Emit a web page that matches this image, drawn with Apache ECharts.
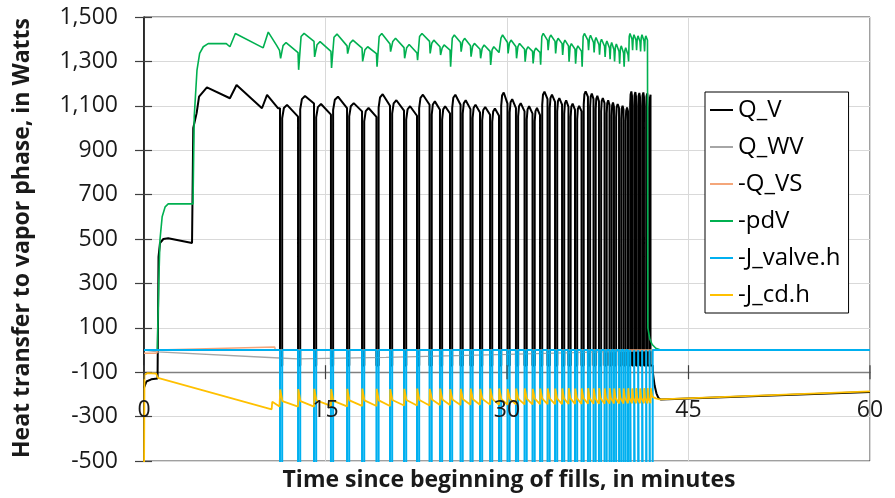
<!DOCTYPE html>
<html><head><meta charset="utf-8">
<script src="https://cdn.jsdelivr.net/npm/echarts@6/dist/echarts.min.js"></script>
<style>html,body{margin:0;padding:0;background:#fff}#c{width:895px;height:498px}</style>
</head><body><div id="c"></div>
<script>
// ---------------- data ----------------
const xTickLabels = [0, 15, 30, 45, 60];
const yTickLabels = [-500, -300, -100, 100, 300, 500, 700, 900, 1100, 1300, 1500];
const xAxisCrossAt = -100;
const seriesNames = ['Q_V', 'Q_WV', '-Q_VS', '-pdV', '-J_valve.h', '-J_cd.h'];

// start time (minutes) of every fill (valve opening)
const fillTimes = [11.24, 12.73, 14.05, 15.45, 16.78, 18.02, 19.21, 20.33, 21.49, 22.56,
  23.60, 24.46, 25.29, 26.16, 26.98, 27.77, 28.60, 29.34, 30.04, 30.74,
  31.45, 32.11, 32.73, 33.35, 33.97, 34.55, 35.08, 35.62, 36.16, 36.69,
  37.15, 37.60, 38.06, 38.47, 38.84, 39.26, 39.63, 40.00, 40.33, 40.66,
  40.99, 41.32, 41.61, 41.86];

// Q_V : before fills, per-fill peak and value just before next fill, after fills
const qvStart = [[0, -170], [0.2, -142], [0.6, -132], [1.12, -128], [1.2, 420], [1.32, 481], [1.6, 500],
  [2.0, 503], [3.97, 482], [4.07, 1000], [4.35, 1067], [4.55, 1141], [5.2, 1183], [7.1, 1134],
  [7.65, 1194], [9.75, 1089], [10.17, 1149], [11.07, 1089]];
const qvPeak = [1104, 1144, 1108, 1141, 1112, 1090, 1152, 1125, 1098, 1150,
  1120, 1098, 1150, 1125, 1105, 1095, 1088, 1160, 1130, 1112,
  1098, 1090, 1164, 1150, 1135, 1125, 1110, 1100, 1165, 1155,
  1145, 1135, 1125, 1115, 1108, 1100, 1092, 1165, 1162, 1158,
  1160, 1156, 1150];
const qvEnd = [1051, 1110, 1060, 1090, 1075, 1050, 1100, 1078, 1055, 1105,
  1082, 1065, 1105, 1085, 1070, 1060, 1055, 1110, 1090, 1075,
  1065, 1058, 1130, 1118, 1105, 1095, 1082, 1075, 1140, 1130,
  1120, 1112, 1104, 1096, 1090, 1082, 1075, 1145, 1142, 1140,
  1140, 1138, 1135];
const qvFillLow = -70;
const qvTail = [[42.05, -100], [42.2, -160], [42.35, -195], [42.5, -215], [42.7, -223], [60, -189]];

// Q_WV
const wvPoints = [[0, 0], [1.1, -8], [11.2, -36], [12.7, -40], [20, -33], [30, -20], [38, -8],
  [41.9, -3], [42.6, 0], [60, 0]];

// -Q_VS
const vsPoints = [[0, -15], [1.05, -15], [1.1, 0], [10.8, 14], [10.85, 0], [60, 0]];

// -pdV : before fills, per-fill dip / peak / value before next fill, after fills
const pdvStart = [[0, 0], [1.1, 0], [1.22, 300], [1.32, 496], [1.5, 600], [1.75, 645], [2.0, 658],
  [4.05, 658], [4.15, 1050], [4.38, 1261], [4.6, 1336], [4.9, 1366], [5.3, 1380], [6.8, 1380],
  [7.1, 1366], [7.55, 1426], [9.85, 1361], [10.27, 1432], [10.96, 1372], [11.2, 1350]];
const pdvDip = [1314, 1262, 1320, 1270, 1335, 1300, 1276, 1344, 1314, 1306,
  1336, 1329, 1276, 1344, 1321, 1314, 1284, 1336, 1336, 1314,
  1299, 1291, 1285, 1351, 1336, 1329, 1299, 1290, 1276, 1350,
  1340, 1330, 1320, 1310, 1300, 1290, 1276, 1300, 1350, 1350,
  1345, 1345];
const pdvPeak = [1385, 1426, 1389, 1423, 1396, 1366, 1426, 1404, 1376, 1426,
  1396, 1374, 1419, 1404, 1381, 1374, 1366, 1419, 1396, 1381,
  1366, 1360, 1426, 1419, 1404, 1396, 1380, 1370, 1426, 1418,
  1408, 1400, 1392, 1385, 1378, 1370, 1362, 1426, 1420, 1415,
  1420, 1415];
const pdvEnd = [1340, 1390, 1345, 1370, 1360, 1335, 1378, 1362, 1338, 1390,
  1366, 1351, 1385, 1370, 1355, 1345, 1340, 1385, 1366, 1355,
  1345, 1340, 1395, 1390, 1380, 1370, 1355, 1345, 1395, 1385,
  1375, 1368, 1360, 1352, 1345, 1338, 1330, 1400, 1395, 1390,
  1392, 1395];
const pdvTail = [[41.64, 100], [41.8, 50], [42.0, 25], [42.3, 8], [42.7, 0], [60, 0]];

// -J_valve.h : zero except during fills, where it drops far below the axis
const valveBase = 0;
const valveFillLow = -2000;

// -J_cd.h
const cdStart = [[0, -600], [0.04, -113], [0.3, -104], [1.0, -106], [1.15, -126], [10.55, -267],
  [10.6, -233], [11.2, -255]];
const cdHi = [-178, -176, -175, -176, -175, -174, -175, -176, -175, -174,
  -175, -174, -176, -175, -174, -175, -174, -173, -175, -174,
  -173, -175, -174, -173, -174, -173, -172, -174, -173, -172,
  -173, -172, -173, -172, -173, -172, -173, -172, -173, -172,
  -173, -172, -172, -172];
const cdLo = [-255, -255, -252, -254, -252, -252, -252, -250, -250, -250,
  -248, -248, -248, -247, -247, -246, -246, -246, -245, -245,
  -245, -244, -244, -244, -244, -243, -243, -243, -242, -242,
  -242, -242, -241, -241, -241, -241, -240, -240, -240, -240,
  -240, -240, -240];
const cdTail = [[42.0, -210], [42.3, -218], [42.6, -222], [60, -186]];

// ---------------- build polylines ----------------
const W = 0.18; // width of a fill spike (minutes)
function lastY(a) { return a[a.length - 1][1]; }

const qv = qvStart.map(p => p.slice());
for (let i = 0; i < qvPeak.length; i++) {
  const t = fillTimes[i], tn = fillTimes[i + 1], L = tn - t, pk = qvPeak[i];
  const rr = Math.min(0.4, 0.3 * L);
  qv.push([t, lastY(qv)], [t, qvFillLow], [t + W, qvFillLow], [t + W, pk - 60],
    [t + W + 0.35 * rr, pk - 14], [t + W + rr, pk], [tn, qvEnd[i]]);
}
{
  const t = fillTimes[qvPeak.length];
  qv.push([t, lastY(qv)], [t, qvFillLow], [t + W, qvFillLow]);
  qvTail.forEach(p => qv.push(p));
}

const pdv = pdvStart.map(p => p.slice());
for (let i = 0; i < pdvPeak.length; i++) {
  const t = fillTimes[i], tn = fillTimes[i + 1], L = tn - t, pk = pdvPeak[i];
  const rg = Math.min(0.45, 0.35 * L);
  pdv.push([t, lastY(pdv)], [t + 0.05, pdvDip[i]], [t + 0.05 + 0.45 * rg, pk - 14],
    [t + 0.05 + rg, pk], [tn, pdvEnd[i]]);
}
pdvTail.forEach(p => pdv.push(p));

const valve = [[0, valveBase]];
fillTimes.forEach(t => {
  valve.push([t, valveBase], [t, valveFillLow], [t + W, valveFillLow], [t + W, valveBase]);
});
valve.push([60, valveBase]);

const cd = cdStart.map(p => p.slice());
for (let i = 0; i < cdLo.length; i++) {
  const t = fillTimes[i], tn = fillTimes[i + 1], L = tn - t;
  cd.push([t, lastY(cd)], [t + 0.02, cdHi[i]], [t + Math.min(0.2, 0.3 * L), cdLo[i] + 25], [tn, cdLo[i]]);
}
{
  const i = cdLo.length, t = fillTimes[i];
  cd.push([t, lastY(cd)], [t + 0.02, cdHi[i]]);
  cdTail.forEach(p => cd.push(p));
}

const seriesData = [qv, wvPoints, vsPoints, pdv, valve, cd];
const colors = ['#000000', '#a6a6a6', '#f4a67a', '#00b050', '#00b0f0', '#ffc000'];
const widths = [2, 1.3, 1.5, 1.6, 2, 1.8];

// ---------------- chart ----------------
const FONT = 'Open Sans';
const xMin = xTickLabels[0], xMax = xTickLabels[xTickLabels.length - 1], xInt = xTickLabels[1] - xTickLabels[0];
const yMin = yTickLabels[0], yMax = yTickLabels[yTickLabels.length - 1], yInt = yTickLabels[1] - yTickLabels[0];

const chart = echarts.init(document.getElementById('c'), null, { renderer: 'canvas' });
const lineSeries = seriesNames.map((n, k) => ({
  name: n, type: 'line', xAxisIndex: 0, yAxisIndex: 0, data: seriesData[k],
  showSymbol: false, symbol: 'none', clip: true, silent: true,
  color: colors[k], lineStyle: { color: colors[k], width: widths[k] }
}));
// x-axis tick marks (crossing the axis line at -100) and their labels
const tickSeries = {
  type: 'custom', xAxisIndex: 0, yAxisIndex: 0, silent: true, z: 5,
  data: xTickLabels.map(v => [v, xAxisCrossAt]),
  renderItem: (params, api) => {
    const v = api.value(0);
    const p = api.coord([v, api.value(1)]);
    return { type: 'group', children: [
      { type: 'line', shape: { x1: p[0], y1: p[1] - 7, x2: p[0], y2: p[1] + 7 },
        style: { stroke: '#404040', lineWidth: 1.2 } },
      { type: 'text', x: p[0], y: p[1] + 38,
        style: { text: String(v), font: '23px "Open Sans"', fill: '#1a1a1a', align: 'center', verticalAlign: 'middle' } }
    ] };
  }
};

chart.setOption({
  animation: false,
  backgroundColor: '#ffffff',
  grid: { left: 144, right: 25, top: 17, bottom: 37, show: true, borderColor: '#404040', borderWidth: 1,
    containLabel: false, outerBoundsMode: 'none' },
  xAxis: [{
    type: 'value', min: xMin, max: xMax, interval: xInt, position: 'bottom',
    axisLine: { show: true, onZero: true, onZeroAxisIndex: 1, lineStyle: { color: '#808080', width: 1.3 } },
    axisTick: { show: false },
    axisLabel: { show: false },
    splitLine: { show: true, lineStyle: { color: '#d9d9d9', width: 1 } }
  }],
  yAxis: [
    {
      type: 'value', min: yMin, max: yMax, interval: yInt, position: 'left',
      axisLine: { show: true, onZero: false, lineStyle: { color: '#000', width: 1.5 } },
      axisTick: { show: true, inside: false, length: 9, lineStyle: { color: '#404040', width: 1.2 } },
      axisLabel: { show: true, margin: 26, fontFamily: FONT, fontSize: 23, color: '#1a1a1a',
        formatter: v => echarts.format.addCommas(v) },
      splitLine: { show: true, lineStyle: { color: '#d9d9d9', width: 1 } }
    },
    {
      type: 'value', min: yMin - xAxisCrossAt, max: yMax - xAxisCrossAt, interval: yInt, position: 'left',
      axisLine: { show: false, onZero: false },
      axisTick: { show: true, inside: true, length: 8, lineStyle: { color: '#404040', width: 1.2 } },
      axisLabel: { show: false },
      splitLine: { show: false }
    }
  ],
  legend: {
    orient: 'vertical', left: 705, top: 92, icon: 'rect', itemWidth: 23, itemHeight: 2, itemGap: 11,
    padding: [5, 8, 5, 5], borderColor: '#000', borderWidth: 1, backgroundColor: '#fff',
    textStyle: { fontFamily: FONT, fontSize: 24, color: '#000', lineHeight: 26 },
    data: seriesNames
  },
  graphic: [
    { type: 'text', x: 22, y: 238, rotation: Math.PI / 2,
      style: { text: 'Heat transfer to vapor phase, in Watts', font: 'bold 23px "Open Sans"', fill: '#1a1a1a',
        textAlign: 'center', textVerticalAlign: 'middle' } },
    { type: 'text', x: 509, y: 480,
      style: { text: 'Time since beginning of fills, in minutes', font: 'bold 23px "Open Sans"', fill: '#1a1a1a',
        textAlign: 'center', textVerticalAlign: 'middle' } }
  ],
  series: lineSeries.concat([tickSeries])
});
</script></body></html>
